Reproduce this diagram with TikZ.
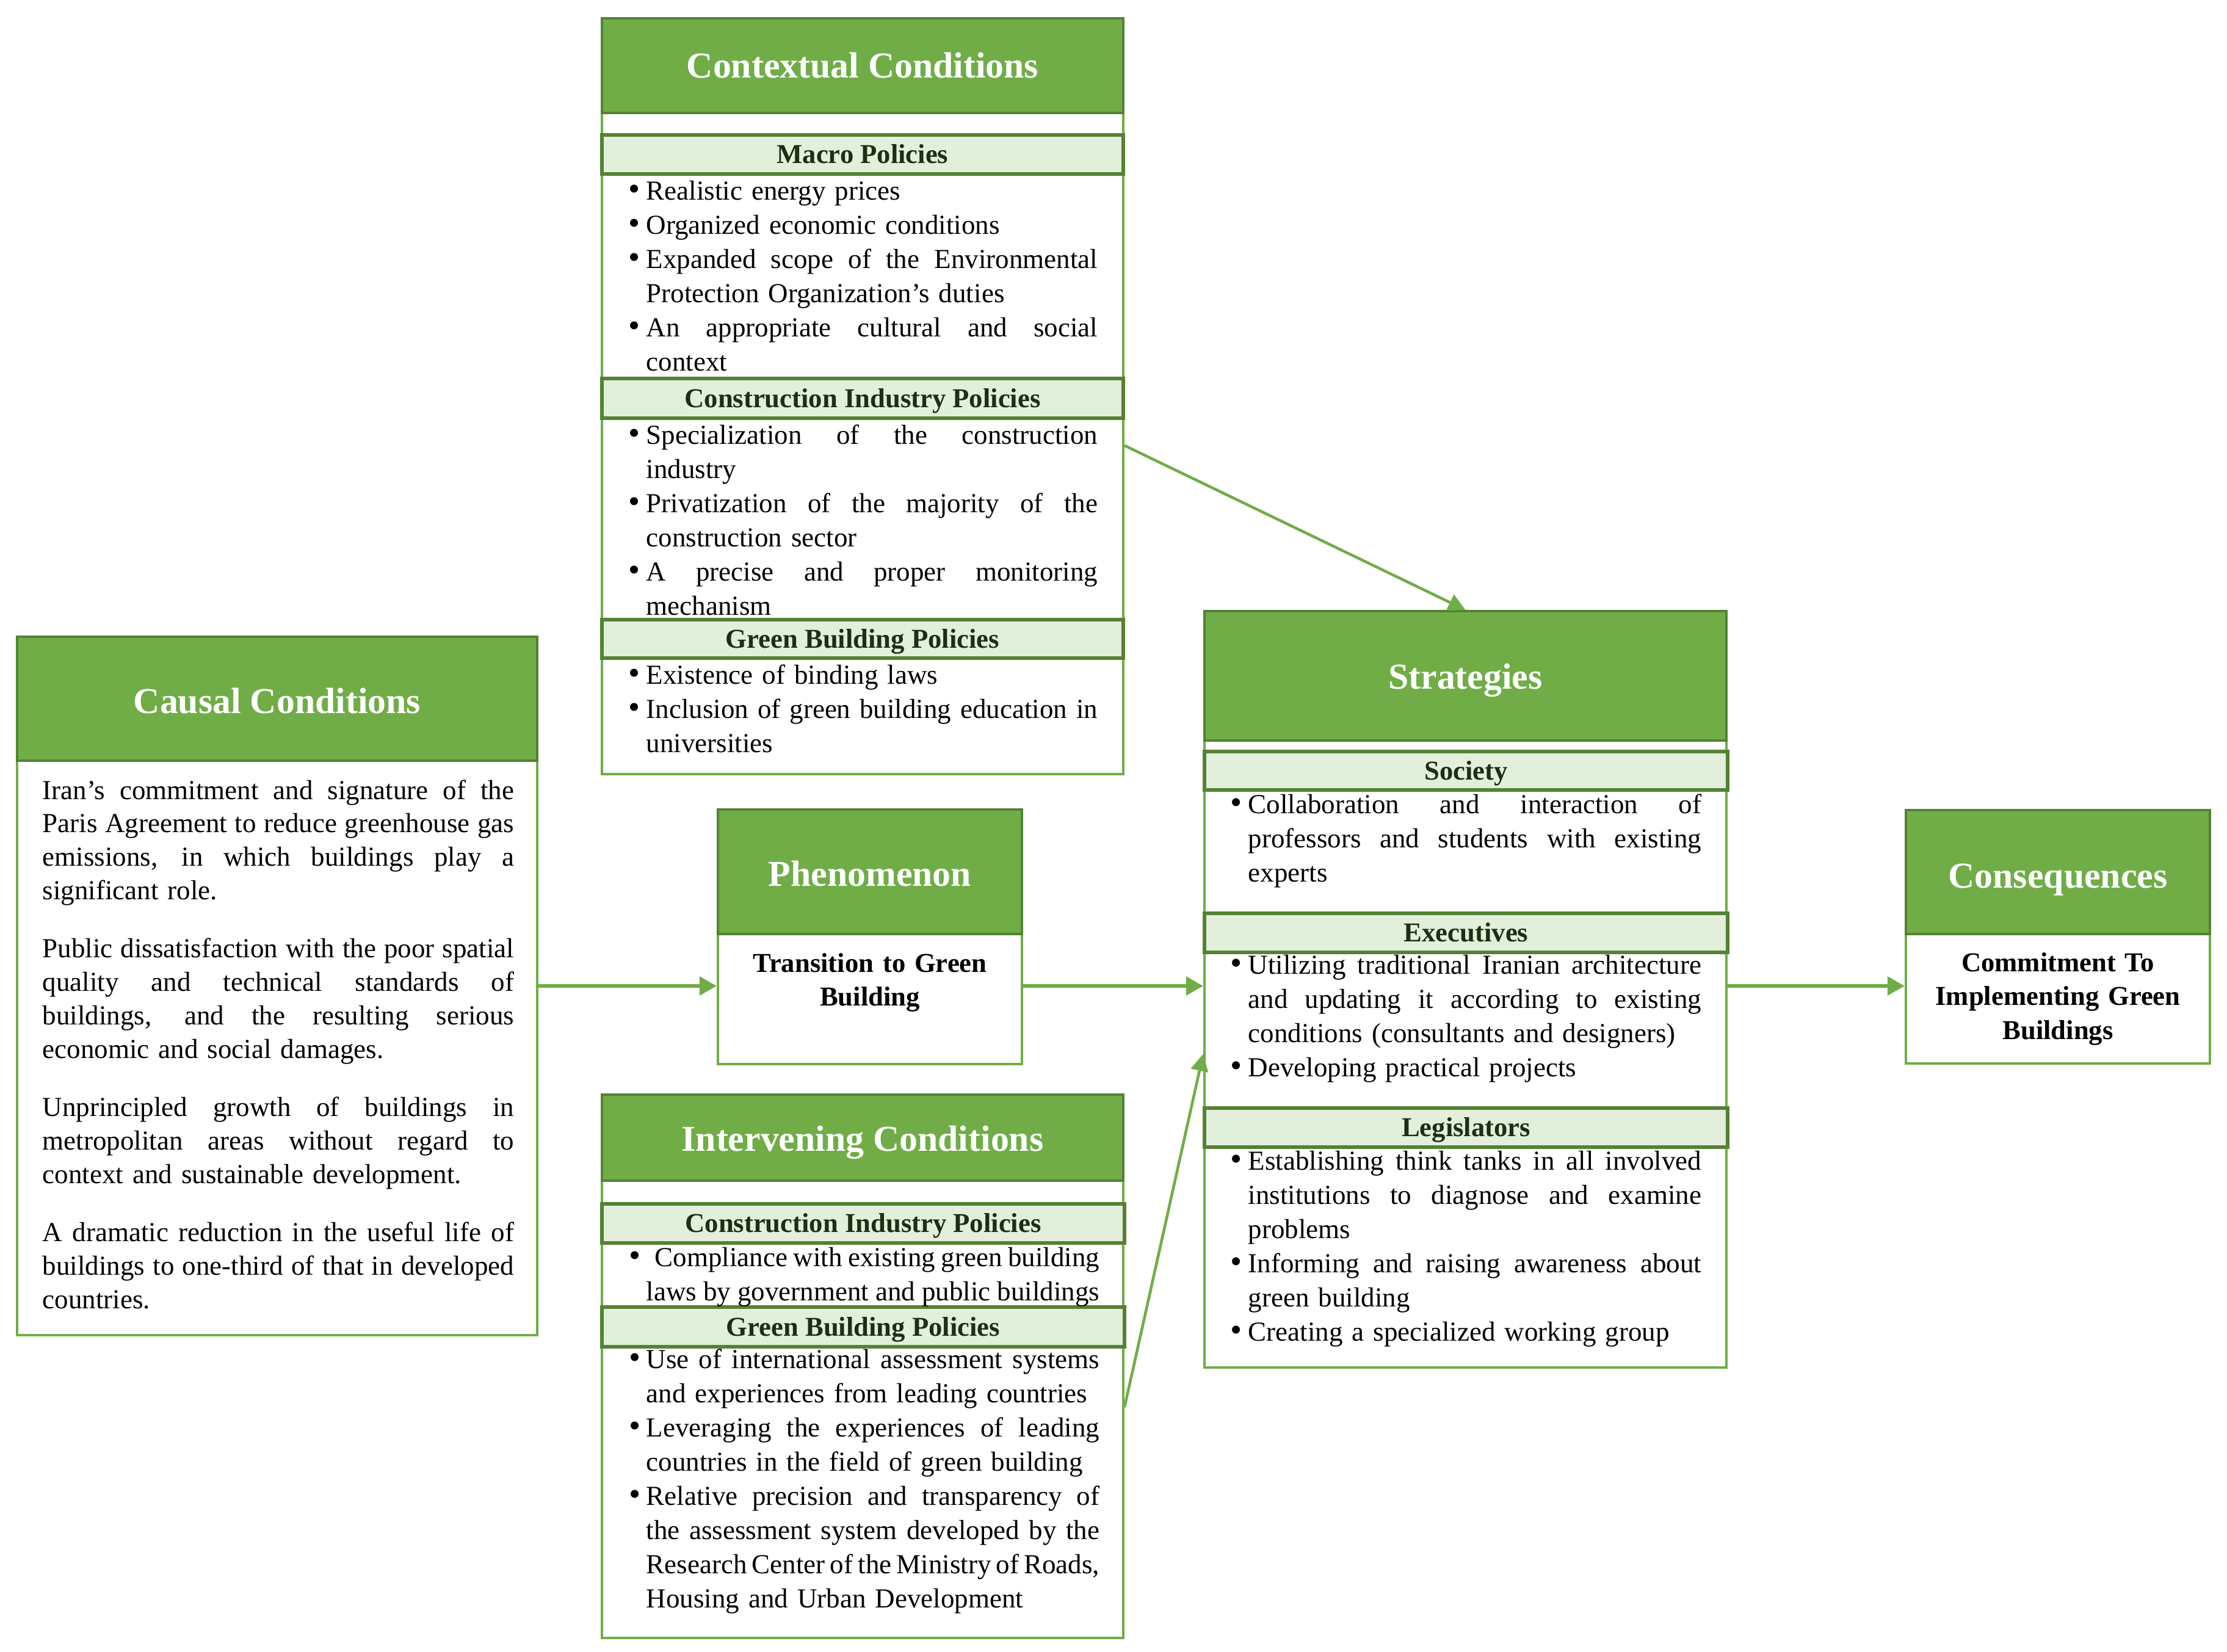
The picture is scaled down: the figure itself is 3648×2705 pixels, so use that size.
\documentclass[tikz,border=0pt]{standalone}
\usepackage{fontspec}
\setmainfont{Liberation Serif}
\usetikzlibrary{arrows.meta,calc,fit}
\definecolor{gmain}{HTML}{70AD47}
\definecolor{gdark}{HTML}{548235}
\definecolor{gband}{HTML}{E2EFDA}
\definecolor{gtext}{HTML}{1E2E14}
\newlength\bw
\newlength\tw
\newcommand\sk{\spaceskip=\fontdimen2\font plus 1fil minus \fontdimen4\font\relax\xspaceskip=\spaceskip}
\newcommand\bul{{\fontsize{15.5}{15}\selectfont\textbullet}}
\newcommand\BJ[1]{\makebox[\bw][l]{\bul}\hbox to \dimexpr\tw-\bw\relax{\sk #1}}
\newcommand\BL[1]{\makebox[\bw][l]{\bul}#1}
\newcommand\CJ[1]{\hspace*{\bw}\hbox to \dimexpr\tw-\bw\relax{\sk #1}}
\newcommand\CL[1]{\hspace*{\bw}#1}
\newcommand\FJ[1]{\leavevmode\hbox to \tw{\sk #1}}
\begin{document}
\begin{tikzpicture}[x=0.01cm,y=-0.01cm,
  outerbox/.style={draw=gmain, line width=1.15pt, fill=white, inner sep=0pt},
  hdr/.style={draw=gdark, line width=1pt, fill=gmain, inner sep=0pt},
  hdrtxt/.style={inner sep=0pt, text=white, font=\fontsize{17}{20}\selectfont\bfseries,
    text height=11.3pt, text depth=0pt, anchor=center},
  band/.style={draw=gdark, line width=1.5pt, fill=gband, inner sep=0pt},
  bandtxt/.style={inner sep=0pt, text=gtext, font=\fontsize{12.7}{15}\selectfont\bfseries,
    text height=8.4pt, text depth=0pt, anchor=center},
  body/.style 2 args={inner sep=0pt, anchor=base west, align=left, text width=#1,
    font={\fontsize{12.8}{15.93}\selectfont\setlength\tw{#1}\setlength\bw{#2}}},
  ctext/.style={inner sep=0pt, anchor=base, align=center, text width=4.6cm,
    font=\fontsize{12.7}{15.8}\selectfont\bfseries},
  arr/.style={draw=gmain, line width=1.8pt, -{Triangle[length=8pt,width=8.5pt]}},
  arrthin/.style={draw=gmain, line width=1.3pt, -{Triangle[length=8pt,width=8pt]}}
]
\path[use as bounding box, fill=white] (0,0) rectangle (3648,2705);

% ---------------- Contextual Conditions ----------------
\node[outerbox, fit={(986,30)(1840,1268)}] (ctx) {};
\node[hdr, fit={(986,30)(1840,185)}] (ctxh) {};
\node[hdrtxt] (ctxhl) at (ctxh.center) {Contextual Conditions};
\node[band, fit={(986,221)(1840,285)}] (ctxb1) {};
\node[bandtxt] (ctxb1l) at (ctxb1.center) {Macro Policies};
\node[band, fit={(986,620)(1840,685)}] (ctxb2) {};
\node[bandtxt] (ctxb2l) at (ctxb2.center) {Construction Industry Policies};
\node[band, fit={(986,1015)(1840,1078)}] (ctxb3) {};
\node[bandtxt] (ctxb3l) at (ctxb3.center) {Green Building Policies};
\node[body={7.68cm}{0.29cm}] (ctxt1) at (1029,327) {%
\BL{Realistic energy prices}\\
\BL{Organized economic conditions}\\
\BJ{Expanded scope of the Environmental}\\
\CL{Protection Organization’s duties}\\
\BJ{An appropriate cultural and social}\\
\CL{context}};
\node[body={7.68cm}{0.29cm}] (ctxt2) at (1029,727) {%
\BJ{Specialization of the construction}\\
\CL{industry}\\
\BJ{Privatization of the majority of the}\\
\CL{construction sector}\\
\BJ{A precise and proper monitoring}\\
\CL{mechanism}};
\node[body={7.68cm}{0.29cm}] (ctxt3) at (1029,1120) {%
\BL{Existence of binding laws}\\
\BJ{Inclusion of green building education in}\\
\CL{universities}};

% ---------------- Causal Conditions ----------------
\node[outerbox, fit={(28,1043)(880,2187)}] (cau) {};
\node[hdr, fit={(28,1043)(880,1246)}] (cauh) {};
\node[hdrtxt] (cauhl) at ($(cauh.center)+(0,4)$) {Causal Conditions};
\node[body={7.72cm}{0pt}, font={\fontsize{12.8}{15.6}\selectfont\setlength\tw{7.72cm}}] (caut) at (69,1309) {%
\FJ{Iran’s commitment and signature of the}\\
\FJ{Paris Agreement to reduce greenhouse gas}\\
\FJ{emissions, in which buildings play a}\\
significant role.\\[11.5pt]
\FJ{Public dissatisfaction with the poor spatial}\\
\FJ{quality and technical standards of}\\
\FJ{buildings, and the resulting serious}\\
economic and social damages.\\[11.5pt]
\FJ{Unprincipled growth of buildings in}\\
\FJ{metropolitan areas without regard to}\\
context and sustainable development.\\[11.5pt]
\FJ{A dramatic reduction in the useful life of}\\
\FJ{buildings to one-third of that in developed}\\
countries.};

% ---------------- Phenomenon ----------------
\node[outerbox, fit={(1176,1326)(1674,1743)}] (phe) {};
\node[hdr, fit={(1176,1326)(1674,1530)}] (pheh) {};
\node[hdrtxt] (phehl) at ($(pheh.center)+(0,4)$) {Phenomenon};
\node[ctext] (phet) at (1425,1592) {Transition to Green\\Building};

% ---------------- Strategies ----------------
\node[outerbox, fit={(1973,1001)(2828,2240)}] (str) {};
\node[hdr, fit={(1973,1001)(2828,1213)}] (strh) {};
\node[hdrtxt] (strhl) at ($(strh.center)+(0,2)$) {Strategies};
\node[band, fit={(1973,1231)(2830,1294)}] (strb1) {};
\node[bandtxt] (strb1l) at (strb1.center) {Society};
\node[band, fit={(1973,1496)(2830,1560)}] (strb2) {};
\node[bandtxt] (strb2l) at (strb2.center) {Executives};
\node[band, fit={(1973,1815)(2830,1879)}] (strb3) {};
\node[bandtxt] (strb3l) at (strb3.center) {Legislators};
\node[body={7.71cm}{0.29cm}] (strt1) at (2015,1332) {%
\BJ{Collaboration and interaction of}\\
\CJ{professors and students with existing}\\
\CL{experts}};
\node[body={7.71cm}{0.29cm}] (strt2) at (2015,1595) {%
\BJ{Utilizing traditional Iranian architecture}\\
\CJ{and updating it according to existing}\\
\CL{conditions (consultants and designers)}\\
\BL{Developing practical projects}};
\node[body={7.71cm}{0.29cm}] (strt3) at (2015,1916) {%
\BJ{Establishing think tanks in all involved}\\
\CJ{institutions to diagnose and examine}\\
\CL{problems}\\
\BJ{Informing and raising awareness about}\\
\CL{green building}\\
\BL{Creating a specialized working group}};

% ---------------- Consequences ----------------
\node[outerbox, fit={(3122,1327)(3620,1742)}] (con) {};
\node[hdr, fit={(3122,1327)(3620,1530)}] (conh) {};
\node[hdrtxt] (conhl) at ($(conh.center)+(0,6)$) {Consequences};
\node[ctext] (cont) at (3371,1591) {Commitment To\\Implementing Green\\Buildings};

% ---------------- Intervening Conditions ----------------
\node[outerbox, fit={(986,1793)(1840,2683)}] (int) {};
\node[hdr, fit={(986,1793)(1840,1934)}] (inth) {};
\node[hdrtxt] (inthl) at ($(inth.center)+(0,2)$) {Intervening Conditions};
\node[band, fit={(986,1972)(1842,2036)}] (intb1) {};
\node[bandtxt] (intb1l) at (intb1.center) {Construction Industry Policies};
\node[band, fit={(986,2141)(1842,2206)}] (intb2) {};
\node[bandtxt] (intb2l) at (intb2.center) {Green Building Policies};
\node[body={7.70cm}{0.28cm}] (intt1) at (1030,2074) {%
\BJ{\hspace{0.14cm}Compliance with existing green building}\\
\CJ{laws by government and public buildings}};
\node[body={7.70cm}{0.28cm}] (intt2) at (1030,2241) {%
\BJ{Use of international assessment systems}\\
\CL{and experiences from leading countries}\\
\BJ{Leveraging the experiences of leading}\\
\CL{countries in the field of green building}\\
\BJ{Relative precision and transparency of}\\
\CJ{the assessment system developed by the}\\
\CJ{Research Center of the Ministry of Roads,}\\
\CL{Housing and Urban Development}};

% ---------------- Connectors ----------------
\draw[arr] (cau.east) -- (cau.east -| phe.west);
\draw[arr] (cau.east -| phe.east) -- (cau.east -| str.west);
\draw[arr] (cau.east -| str.east) -- (cau.east -| con.west);
\coordinate (ctxout) at ($(ctx.north east)!0.565!(ctx.south east)$);
\draw[arrthin] (ctxout) -- (str.north);
\coordinate (intout) at ($(int.north east)!0.575!(int.south east)$);
\coordinate (strin) at ($(str.north west)!0.585!(str.south west)$);
\draw[arrthin] (intout) -- (strin);
\end{tikzpicture}
\end{document}
